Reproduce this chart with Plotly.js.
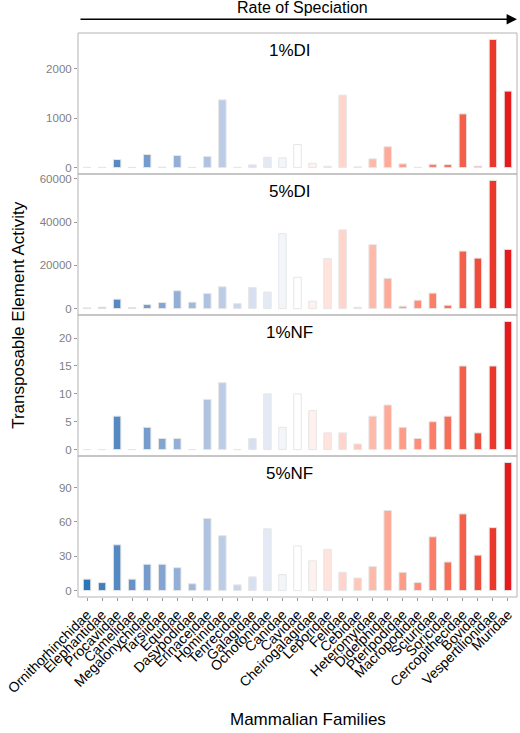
<!DOCTYPE html>
<html>
<head>
<meta charset="utf-8">
<script src="https://cdn.plot.ly/plotly-3.0.1.min.js"></script>
<style>html,body{margin:0;padding:0;background:#fff;}#chart{width:520px;height:733px;}</style>
</head>
<body>
<div id="chart"></div>
<script>
const families = ["Ornithorhinchidae","Elephantidae","Procaviidae","Camelidae","Megalonychidae","Tarsiidae","Equidae","Dasypodidae","Erinaceidae","Hominidae","Tenrecidae","Galagidae","Ochotonidae","Canidae","Cavidae","Cheirogalagidae","Leporidae","Felidae","Cebidae","Heteromyidae","Didelphidae","Pteripodidae","Macropodidae","Sciuridae","Soricidae","Cercopithecidae","Bovidae","Vespertilionidae","Muridae"];
const di1 = [5,5,163,5,265,10,245,5,225,1374,5,55,211,197,469,88,27,1469,14,177,422,75,5,68,61,1088,27,2599,1551];
const di5 = [300,600,4360,470,1870,2800,8250,2960,7000,10100,2330,9800,7630,34700,14480,3420,23190,36420,620,29570,14000,1090,3890,7160,1560,26610,23350,59300,27390];
const nf1 = [0,0,6,0,4,2,2,0,9,12,0,2,10,4,10,7,3,3,1,6,8,4,2,5,6,15,3,15,23];
const nf5 = [10,7,40,10,23,23,20,6,63,48,5,12,54,14,39,26,36,16,11,21,70,16,7,47,25,67,31,55,112];
const panelNames = ["1%DI","5%DI","1%NF","5%NF"];
const tickSets = [[0,1000,2000],[0,20000,40000,60000],[0,5,10,15,20],[0,30,60,90]];

// colour gradient (blue - white - red), interpolated in Lab
function hex2rgb(h){return [1,3,5].map(i=>parseInt(h.substr(i,2),16)/255);}
function lin(c){return c<=0.04045?c/12.92:Math.pow((c+0.055)/1.055,2.4);}
function delin(c){return c<=0.0031308?12.92*c:1.055*Math.pow(c,1/2.4)-0.055;}
function rgb2lab(rgb){
  const [r,g,b]=rgb.map(lin);
  let X=(0.4124*r+0.3576*g+0.1805*b)/0.95047, Y=(0.2126*r+0.7152*g+0.0722*b), Z=(0.0193*r+0.1192*g+0.9505*b)/1.08883;
  const f=t=>t>0.008856?Math.cbrt(t):7.787*t+16/116;
  const fx=f(X),fy=f(Y),fz=f(Z);
  return [116*fy-16,500*(fx-fy),200*(fy-fz)];
}
function lab2hex(lab){
  const fy=(lab[0]+16)/116, fx=fy+lab[1]/500, fz=fy-lab[2]/200;
  const fi=t=>t*t*t>0.008856?t*t*t:(t-16/116)/7.787;
  const X=fi(fx)*0.95047,Y=fi(fy),Z=fi(fz)*1.08883;
  let r=3.2406*X-1.5372*Y-0.4986*Z, g=-0.9689*X+1.8758*Y+0.0415*Z, b=0.0557*X-0.2040*Y+1.0570*Z;
  return '#'+[r,g,b].map(c=>{let v=Math.round(Math.max(0,Math.min(1,delin(c)))*255);return v.toString(16).padStart(2,'0');}).join('');
}
const lowLab=rgb2lab(hex2rgb('#2a77b8')), midLab=rgb2lab(hex2rgb('#ffffff')), highLab=rgb2lab(hex2rgb('#e41a1c'));
function colourAt(i,n){
  const mid=(n-1)/2;
  if(i<=mid){const t=i/mid;return lab2hex(lowLab.map((v,k)=>v+(midLab[k]-v)*t));}
  const t=(i-mid)/mid;return lab2hex(midLab.map((v,k)=>v+(highLab[k]-v)*t));
}
const colours = families.map((f,i)=>colourAt(i,families.length));

const series=[di1,di5,nf1,nf5];
const yNames=['y','y2','y3','y4'];
const layoutY=['yaxis','yaxis2','yaxis3','yaxis4'];
const data = series.map((vals,k)=>({
  type:'bar', x:families, y:vals, xaxis:'x', yaxis:yNames[k],
  marker:{color:colours, line:{color:'#e6e6e6', width:1}},
  showlegend:false, hoverinfo:'x+y'
}));

const layout = {
  width:520, height:733,
  margin:{l:78,r:3,t:33,b:136},
  paper_bgcolor:'#fff', plot_bgcolor:'#fff',
  bargap:0.5,
  font:{family:'Liberation Sans, Arial, sans-serif', color:'#000'},
  xaxis:{anchor:'y4', type:'category', tickmode:'array', tickvals:families, ticktext:families,
    tickangle:-45, tickfont:{size:14,color:'#000'}, ticks:'outside', ticklen:3, tickcolor:'#999',
    showgrid:false, zeroline:false, showline:false, range:[-0.6,28.6]},
  shapes:[], annotations:[]
};
const domains=[[0.75,1],[0.5,0.75],[0.25,0.5],[0,0.25]];
series.forEach((vals,k)=>{
  const mx=Math.max(...vals);
  layout[layoutY[k]]={domain:domains[k], anchor:'x', range:[-0.05*mx,1.05*mx],
    tickmode:'array', tickvals:tickSets[k], ticktext:tickSets[k].map(String),
    tickfont:{size:11.5,color:'#7f7f7f'}, ticks:'outside', ticklen:3, tickcolor:'#999',
    showgrid:false, zeroline:false, showline:false};
  const yn=yNames[k];
  layout.shapes.push({type:'rect', xref:'x domain', yref:yn+' domain', x0:0,x1:1,y0:0,y1:1,
    line:{color:'#b3b3b3',width:1}, fillcolor:'rgba(0,0,0,0)', layer:'above'});
  layout.annotations.push({text:panelNames[k], xref:'x domain', yref:yn+' domain', x:0.482, y:1,
    yshift:-17, xanchor:'center', yanchor:'middle', showarrow:false, font:{size:17,color:'#000'}});
});
// axis titles and arrow
layout.annotations.push({text:'Transposable Element Activity', xref:'paper', yref:'paper', x:-0.137, y:0.5,
  textangle:-90, showarrow:false, xanchor:'center', yanchor:'middle', font:{size:17,color:'#000'}});
layout.annotations.push({text:'Mammalian Families', xref:'paper', yref:'paper', x:0.525, y:-0.218,
  showarrow:false, xanchor:'center', yanchor:'middle', font:{size:17,color:'#000'}});
layout.annotations.push({text:'Rate of Speciation', xref:'paper', yref:'paper', x:0.511, y:1.0455,
  showarrow:false, xanchor:'center', yanchor:'middle', font:{size:16,color:'#000'}});
layout.annotations.push({text:'', xref:'paper', yref:'paper', x:1.0, y:1.0243,
  axref:'pixel', ayref:'pixel', ax:-438, ay:0, showarrow:true, arrowhead:2, arrowsize:1.3, arrowwidth:1.6, arrowcolor:'#000', standoff:0});

Plotly.newPlot('chart', data, layout, {displayModeBar:false, staticPlot:true});
</script>
</body>
</html>
